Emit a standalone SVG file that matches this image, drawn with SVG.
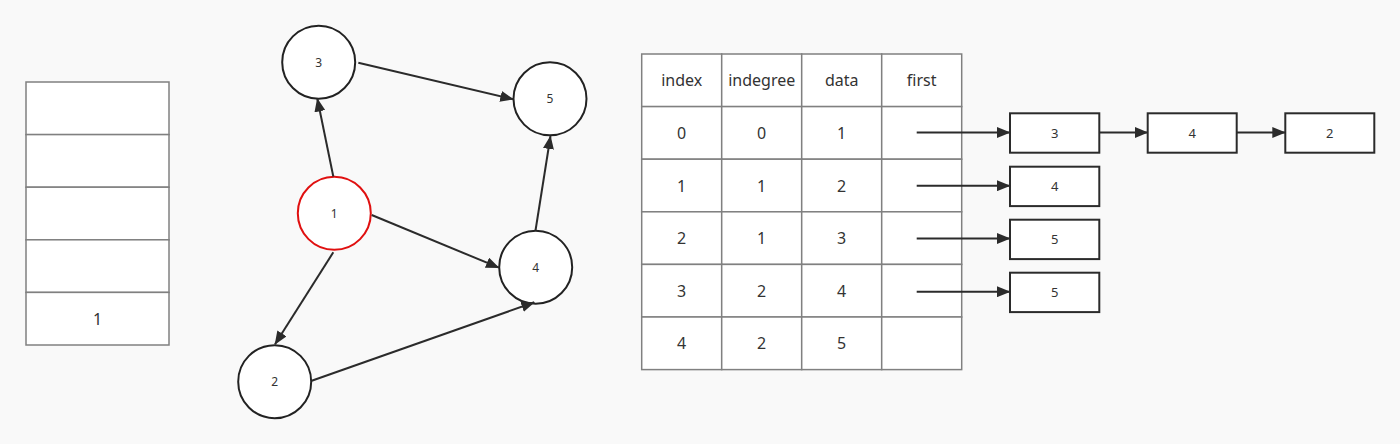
<svg xmlns="http://www.w3.org/2000/svg" width="1400" height="444" viewBox="0 0 1400 444">
<defs>
<marker id="arr" markerUnits="userSpaceOnUse" markerWidth="14" markerHeight="11" refX="13" refY="5.5" orient="auto">
<path d="M0,0 L13.5,5.5 L0,11 z" fill="#2b2b2b"/>
</marker>
<style>
.bg{fill:#f9f9f9}
.cell{fill:#ffffff;stroke:#808080;stroke-width:1.5}
.node{fill:#ffffff;stroke:#222222;stroke-width:2}
.red{fill:#ffffff;stroke:#e01010;stroke-width:2}
.box{fill:#ffffff;stroke:#2b2b2b;stroke-width:2}
.edge{stroke:#2b2b2b;stroke-width:2;fill:none;marker-end:url(#arr)}
.t{font-family:"Noto Sans","Liberation Sans",sans-serif;fill:#333333;text-anchor:middle;dominant-baseline:central}
.t16{font-size:16px}
.t12{font-size:12px}
.t13{font-size:13px}
</style>
</defs>
<rect class="bg" x="0" y="0" width="1400" height="444"/>

<g id="stack">
<rect class="cell" x="26" y="82" width="143" height="52.6"/>
<rect class="cell" x="26" y="134.6" width="143" height="52.6"/>
<rect class="cell" x="26" y="187.2" width="143" height="52.6"/>
<rect class="cell" x="26" y="239.8" width="143" height="52.6"/>
<rect class="cell" x="26" y="292.4" width="143" height="52.6"/>
<text class="t t16" x="97.5" y="319">1</text>
</g>

<g id="v3"><circle class="node" cx="318.7" cy="62.2" r="36.5"/><text class="t t12" x="318.7" y="62.2">3</text></g>
<g id="v5"><circle class="node" cx="550" cy="98.8" r="36.5"/><text class="t t12" x="550" y="98.8">5</text></g>
<g id="v1"><circle class="red" cx="334.3" cy="213.3" r="36.5"/><text class="t t12" x="334.3" y="213.3">1</text></g>
<g id="v4"><circle class="node" cx="535.7" cy="267.2" r="36.5"/><text class="t t12" x="535.7" y="267.2">4</text></g>
<g id="v2"><circle class="node" cx="274.7" cy="381.7" r="36.5"/><text class="t t12" x="274.7" y="381.7">2</text></g>

<g id="table">
<rect class="cell" x="641.7" y="54" width="80" height="52.6"/>
<rect class="cell" x="721.7" y="54" width="80" height="52.6"/>
<rect class="cell" x="801.7" y="54" width="80" height="52.6"/>
<rect class="cell" x="881.7" y="54" width="80" height="52.6"/>
<rect class="cell" x="641.7" y="106.6" width="80" height="52.6"/>
<rect class="cell" x="721.7" y="106.6" width="80" height="52.6"/>
<rect class="cell" x="801.7" y="106.6" width="80" height="52.6"/>
<rect class="cell" x="881.7" y="106.6" width="80" height="52.6"/>
<rect class="cell" x="641.7" y="159.2" width="80" height="52.6"/>
<rect class="cell" x="721.7" y="159.2" width="80" height="52.6"/>
<rect class="cell" x="801.7" y="159.2" width="80" height="52.6"/>
<rect class="cell" x="881.7" y="159.2" width="80" height="52.6"/>
<rect class="cell" x="641.7" y="211.8" width="80" height="52.6"/>
<rect class="cell" x="721.7" y="211.8" width="80" height="52.6"/>
<rect class="cell" x="801.7" y="211.8" width="80" height="52.6"/>
<rect class="cell" x="881.7" y="211.8" width="80" height="52.6"/>
<rect class="cell" x="641.7" y="264.4" width="80" height="52.6"/>
<rect class="cell" x="721.7" y="264.4" width="80" height="52.6"/>
<rect class="cell" x="801.7" y="264.4" width="80" height="52.6"/>
<rect class="cell" x="881.7" y="264.4" width="80" height="52.6"/>
<rect class="cell" x="641.7" y="317" width="80" height="52.6"/>
<rect class="cell" x="721.7" y="317" width="80" height="52.6"/>
<rect class="cell" x="801.7" y="317" width="80" height="52.6"/>
<rect class="cell" x="881.7" y="317" width="80" height="52.6"/>
<text class="t t16" x="681.7" y="80.3">index</text>
<text class="t t16" x="761.7" y="80.3">indegree</text>
<text class="t t16" x="841.7" y="80.3">data</text>
<text class="t t16" x="921.7" y="80.3">first</text>
<text class="t t16" x="681.7" y="132.9">0</text>
<text class="t t16" x="761.7" y="132.9">0</text>
<text class="t t16" x="841.7" y="132.9">1</text>
<text class="t t16" x="681.7" y="185.5">1</text>
<text class="t t16" x="761.7" y="185.5">1</text>
<text class="t t16" x="841.7" y="185.5">2</text>
<text class="t t16" x="681.7" y="238.1">2</text>
<text class="t t16" x="761.7" y="238.1">1</text>
<text class="t t16" x="841.7" y="238.1">3</text>
<text class="t t16" x="681.7" y="290.7">3</text>
<text class="t t16" x="761.7" y="290.7">2</text>
<text class="t t16" x="841.7" y="290.7">4</text>
<text class="t t16" x="681.7" y="343.3">4</text>
<text class="t t16" x="761.7" y="343.3">2</text>
<text class="t t16" x="841.7" y="343.3">5</text>
</g>

<g id="list0a"><rect class="box" x="1010" y="113.3" width="89.3" height="39.4"/><text class="t t13" x="1054.7" y="133">3</text></g>
<g id="list0b"><rect class="box" x="1147.7" y="113.3" width="89" height="39.4"/><text class="t t13" x="1192.2" y="133">4</text></g>
<g id="list0c"><rect class="box" x="1285.3" y="113.3" width="89" height="39.4"/><text class="t t13" x="1329.8" y="133">2</text></g>
<g id="list1"><rect class="box" x="1010" y="166.7" width="89.3" height="39.4"/><text class="t t13" x="1054.7" y="186.4">4</text></g>
<g id="list2"><rect class="box" x="1010" y="219.7" width="89.3" height="39.4"/><text class="t t13" x="1054.7" y="239.4">5</text></g>
<g id="list3"><rect class="box" x="1010" y="272.7" width="89.3" height="39.4"/><text class="t t13" x="1054.7" y="292.4">5</text></g>

<g id="connectors">
<line class="edge" x1="333.3" y1="176.5" x2="317.3" y2="98.5"/>
<line class="edge" x1="358.3" y1="62.7" x2="513.3" y2="99.3"/>
<line class="edge" x1="371.7" y1="215" x2="499" y2="267.7"/>
<line class="edge" x1="333.3" y1="252.3" x2="275" y2="344.3"/>
<line class="edge" x1="311.7" y1="380.7" x2="534.3" y2="302.3"/>
<line class="edge" x1="535.5" y1="230.5" x2="550.5" y2="136"/>
<line class="edge" x1="916.7" y1="132.5" x2="1010" y2="132.5"/>
<line class="edge" x1="916.7" y1="185.7" x2="1010" y2="185.7"/>
<line class="edge" x1="916.7" y1="238.5" x2="1010" y2="238.5"/>
<line class="edge" x1="916.7" y1="291.7" x2="1010" y2="291.7"/>
<line class="edge" x1="1099.3" y1="132.5" x2="1147.7" y2="132.5"/>
<line class="edge" x1="1236.7" y1="132.5" x2="1285.3" y2="132.5"/>
</g>
</svg>
